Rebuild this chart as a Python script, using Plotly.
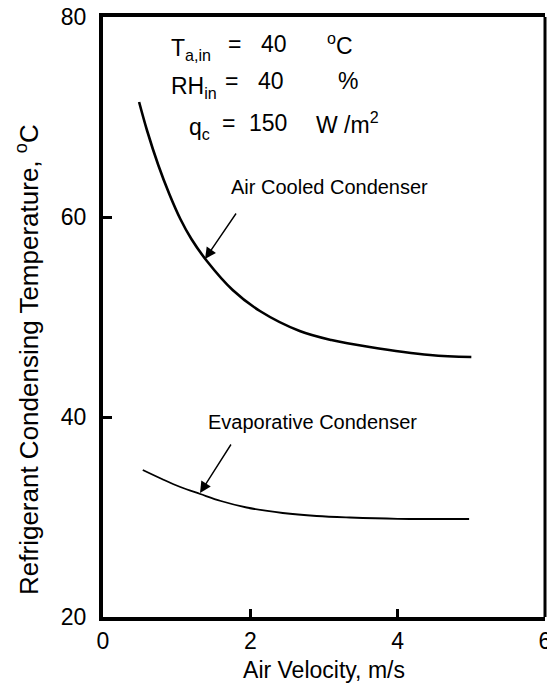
import plotly.graph_objects as go

# Data
air_v = [0.49, 0.6, 0.75, 0.9, 1.05, 1.2, 1.41, 1.76, 2.13, 2.67, 3.1, 3.62, 4.44, 5.0]
air_t = [71.5, 68.6, 65.2, 62.3, 59.8, 57.8, 55.6, 52.7, 50.6, 48.6, 47.7, 47.0, 46.2, 46.0]

evap_v = [0.54, 0.8, 1.05, 1.32, 1.6, 1.95, 2.44, 2.9, 3.35, 4.0, 4.48, 4.97]
evap_t = [34.7, 33.8, 33.0, 32.3, 31.6, 30.95, 30.4, 30.1, 29.95, 29.82, 29.8, 29.8]

x_ticks = [0, 2, 4, 6]
y_ticks = [20, 40, 60, 80]

FONT = "Liberation Sans, Arial, sans-serif"

fig = go.Figure()
fig.add_trace(go.Scatter(x=air_v, y=air_t, mode="lines",
                         line=dict(color="black", width=2.6, shape="spline", smoothing=1),
                         showlegend=False, hoverinfo="skip"))
fig.add_trace(go.Scatter(x=evap_v, y=evap_t, mode="lines",
                         line=dict(color="black", width=1.8, shape="spline", smoothing=1),
                         showlegend=False, hoverinfo="skip"))

ann = []
def txt(x, y, s, xanchor="center", size=23):
    ann.append(dict(x=x, y=y, xref="x", yref="y", text=s, showarrow=False,
                    xanchor=xanchor, yanchor="middle",
                    font=dict(family=FONT, size=size, color="black")))

# conditions block
txt(0.9, 76.8, "T<sub>a,in</sub>", xanchor="left")
txt(1.78, 77.3, "=")
txt(2.32, 77.3, "40")
txt(3.22, 77.3, "<sup>o</sup>C")
txt(0.9, 73.0, "RH<sub>in</sub>", xanchor="left")
txt(1.74, 73.6, "=")
txt(2.28, 73.6, "40")
txt(3.33, 73.6, "%")
txt(1.14, 68.9, "q<sub>c</sub>", xanchor="left")
txt(1.71, 69.4, "=")
txt(2.24, 69.4, "150")
txt(3.32, 69.4, "W /m<sup>2</sup>")

# curve labels
txt(3.08, 63.0, "Air Cooled Condenser", size=20)
txt(2.84, 39.5, "Evaporative Condenser", size=20)

# y-axis title (placed as rotated text)
ann.append(dict(x=-0.172, y=0.43, xref="paper", yref="paper", textangle=-90,
                text="Refrigerant Condensing Temperature, <sup>o</sup>C", showarrow=False,
                xanchor="center", yanchor="middle",
                font=dict(family=FONT, size=26, color="black")))

# arrows
for (tx, ty, sx, sy) in [(1.385, 55.8, 1.82, 60.5), (1.317, 32.4, 1.75, 37.4)]:
    ann.append(dict(x=tx, y=ty, ax=sx, ay=sy, xref="x", yref="y", axref="x", ayref="y",
                    text="", showarrow=True, arrowhead=2, arrowsize=1.6, arrowwidth=1.4,
                    arrowcolor="black"))

fig.update_layout(
    width=547, height=687,
    margin=dict(l=103, r=2, t=17, b=70),
    paper_bgcolor="white", plot_bgcolor="white",
    font=dict(family=FONT, size=23, color="black"),
    annotations=ann,
    shapes=[dict(type="line", xref="paper", yref="paper", x0=1, x1=1, y0=0, y1=1,
                 line=dict(color="black", width=3))],
    xaxis=dict(range=[0, 6], tickvals=x_ticks, ticktext=[str(v) for v in x_ticks],
               showline=True, linecolor="black", linewidth=4, mirror=True,
               ticks="inside", ticklen=8, tickwidth=3, tickcolor="black",
               showgrid=False, zeroline=False, ticklabeloverflow="allow",
               automargin=False,
               title=dict(text="Air Velocity, m/s", font=dict(size=23), standoff=10),
               tickfont=dict(size=23)),
    yaxis=dict(range=[20, 80], tickvals=y_ticks, ticktext=[str(v) for v in y_ticks],
               showline=True, linecolor="black", linewidth=4, mirror=False,
               ticks="inside", ticklen=9, tickwidth=3, tickcolor="black",
               showgrid=False, zeroline=False, ticklabelstandoff=8,
               automargin=False,
               tickfont=dict(size=23)),
)

fig.write_html("out.html")
